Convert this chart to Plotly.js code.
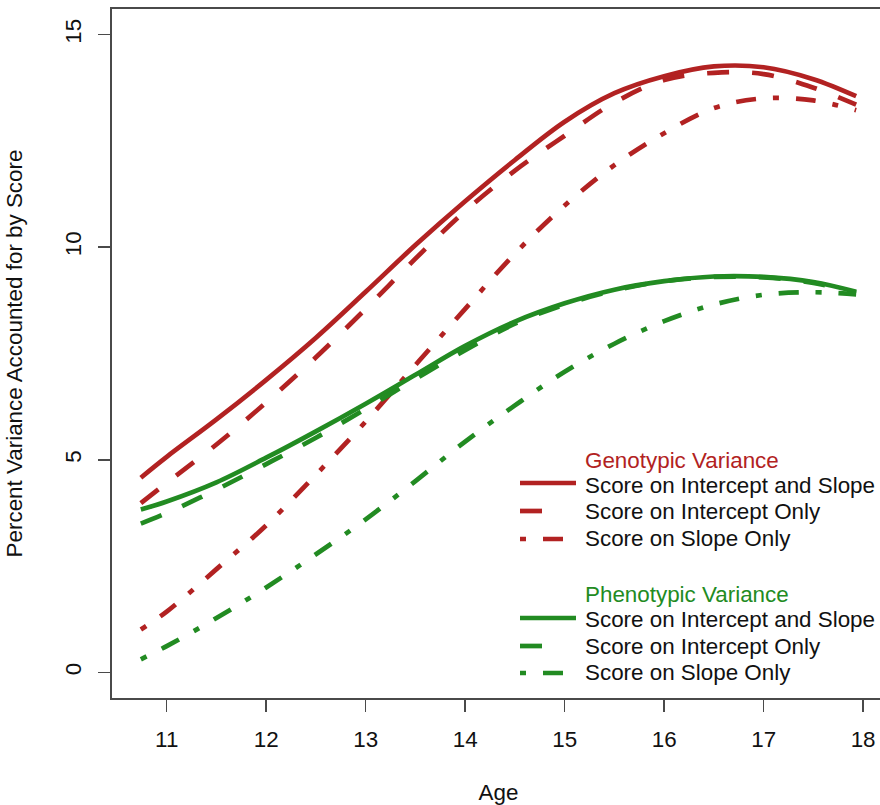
<!DOCTYPE html>
<html>
<head>
<meta charset="utf-8">
<script src="https://cdn.plot.ly/plotly-3.0.1.min.js"></script>
<style>
html, body { margin: 0; padding: 0; overflow: hidden; background: #fff; }
#chart { width: 890px; height: 805px; }
</style>
</head>
<body>
<div id="chart"></div>
<script>
// ---- data ----
const ages = [10.74, 11, 11.5, 12, 12.5, 13, 13.5, 14, 14.5, 15, 15.5, 16, 16.5, 17, 17.5, 17.93];
const genoInterceptSlope = [4.58, 5.07, 5.95, 6.88, 7.87, 8.95, 10.05, 11.08, 12.05, 12.95, 13.62, 14.02, 14.25, 14.23, 13.95, 13.55];
const genoInterceptOnly  = [3.98, 4.46, 5.36, 6.35, 7.41, 8.55, 9.73, 10.85, 11.8, 12.62, 13.4, 13.93, 14.1, 14.07, 13.75, 13.35];
const genoSlopeOnly      = [1.01, 1.43, 2.43, 3.46, 4.65, 5.9, 7.23, 8.55, 9.85, 10.98, 11.93, 12.68, 13.27, 13.5, 13.45, 13.22];
const phenoInterceptSlope = [3.83, 4.02, 4.47, 5.05, 5.67, 6.32, 7.0, 7.68, 8.25, 8.68, 9.0, 9.2, 9.31, 9.3, 9.18, 8.95];
const phenoInterceptOnly  = [3.5, 3.75, 4.3, 4.9, 5.52, 6.2, 6.9, 7.58, 8.2, 8.65, 8.98, 9.2, 9.3, 9.29, 9.16, 8.93];
const phenoSlopeOnly      = [0.31, 0.62, 1.28, 2.0, 2.78, 3.6, 4.5, 5.43, 6.28, 7.07, 7.73, 8.26, 8.65, 8.88, 8.94, 8.89];

const xTicks = [11, 12, 13, 14, 15, 16, 17, 18];
const yTicks = [0, 5, 10, 15];
const groupTitles = ["Genotypic Variance", "Phenotypic Variance"];
const seriesLabels = ["Score on Intercept and Slope", "Score on Intercept Only", "Score on Slope Only"];

// ---- styles ----
const RED = "#b22222";
const GREEN = "#228b22";
const DASHES = ["solid", "22px,23px", "6px,17px,20px,17px"];
const LW = 4.7;
const FONT = "Liberation Sans, Arial, Helvetica, sans-serif";
const FS = 22.4;

const groups = [
  { color: RED, series: [genoInterceptSlope, genoInterceptOnly, genoSlopeOnly] },
  { color: GREEN, series: [phenoInterceptSlope, phenoInterceptOnly, phenoSlopeOnly] }
];

const traces = [];
groups.forEach((g, gi) => {
  g.series.forEach((ys, si) => {
    traces.push({
      type: "scatter", mode: "lines",
      x: ages, y: ys,
      name: groupTitles[gi] + " – " + seriesLabels[si],
      line: { color: g.color, width: LW, dash: DASHES[si], shape: "spline", smoothing: 1 },
      showlegend: false, hoverinfo: "skip"
    });
  });
});

// ---- plot geometry ----
const W = 890, H = 805;
const M = { l: 112, r: 5, t: 9, b: 107 };
const PW = W - M.l - M.r, PH = H - M.t - M.b;
const px = x => (x - M.l) / PW;          // pixel -> paper x
const py = y => (M.t + PH - y) / PH;     // pixel -> paper y

// ---- legend (drawn with shapes + annotations) ----
const shapes = [], annotations = [];
const legendLayout = [
  { header: 461, rows: [485, 511.5, 538], lines: [483, 511, 539] },
  { header: 594, rows: [619.5, 646, 672.5], lines: [618, 646, 673] }
];
const sampleEnds = [576, 565, 566];
groups.forEach((g, gi) => {
  const L = legendLayout[gi];
  annotations.push({
    xref: "paper", yref: "paper", x: px(583), y: py(L.header),
    xanchor: "left", yanchor: "middle", showarrow: false,
    text: groupTitles[gi], font: { family: FONT, size: FS, color: g.color }
  });
  seriesLabels.forEach((lab, si) => {
    annotations.push({
      xref: "paper", yref: "paper", x: px(583), y: py(L.rows[si]),
      xanchor: "left", yanchor: "middle", showarrow: false,
      text: lab, font: { family: FONT, size: FS, color: "#111" }
    });
    shapes.push({
      type: "line", xref: "paper", yref: "paper",
      x0: px(520), x1: px(sampleEnds[si]), y0: py(L.lines[si]), y1: py(L.lines[si]),
      line: { color: g.color, width: LW, dash: DASHES[si] }
    });
  });
});

const axisCommon = {
  showgrid: false, zeroline: false,
  showline: true, mirror: true, linecolor: "#4a4a4a", linewidth: 2,
  ticks: "outside", ticklen: 12, tickwidth: 1.5, tickcolor: "#4a4a4a",
  tickfont: { family: FONT, size: FS, color: "#111" }
};

const layout = {
  width: W, height: H,
  margin: M,
  paper_bgcolor: "#fff", plot_bgcolor: "#fff",
  showlegend: false,
  xaxis: Object.assign({}, axisCommon, {
    range: [10.45, 18.22],
    tickmode: "array", tickvals: xTicks, ticktext: xTicks.map(String),
    ticklabelstandoff: 8,
    title: { text: "Age", font: { family: FONT, size: FS, color: "#111" }, standoff: 36 }
  }),
  yaxis: Object.assign({}, axisCommon, {
    range: [-0.6, 15.6],
    tickmode: "array", tickvals: yTicks, ticktext: yTicks.map(String),
    tickangle: -90,
    ticklabelstandoff: 8,
    title: { text: "Percent Variance Accounted for by Score", font: { family: FONT, size: FS, color: "#111" }, standoff: 32 }
  }),
  shapes: shapes,
  annotations: annotations
};

Plotly.newPlot("chart", traces, layout, { staticPlot: true, displayModeBar: false });
</script>
</body>
</html>
